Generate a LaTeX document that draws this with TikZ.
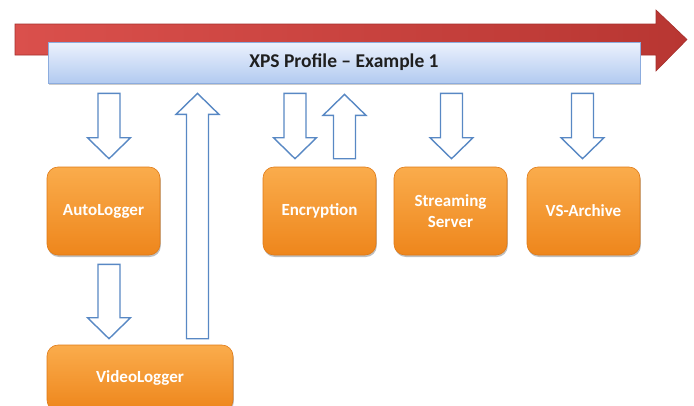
\documentclass[tikz,border=0pt]{standalone}
\usepackage{fontspec}
\setmainfont{Carlito}
\usetikzlibrary{calc,shadows}
\definecolor{redL}{RGB}{218,80,76}
\definecolor{redR}{RGB}{184,54,50}
\definecolor{redB}{RGB}{165,48,45}
\definecolor{barT}{RGB}{236,242,253}
\definecolor{barB}{RGB}{178,202,240}
\definecolor{barD}{RGB}{140,172,222}
\definecolor{orT}{RGB}{250,172,76}
\definecolor{orB}{RGB}{238,134,28}
\definecolor{orD}{RGB}{224,122,22}
\definecolor{arrBlue}{RGB}{88,136,196}
\newcommand\blockarrow[2]{%
  \draw[blockarr] let \p1=(#1), \p2=(#2), \n1={sign(\y2-\y1)} in
    ({\x1-11pt},{\y1}) -- ({\x1-11pt},{\y2-\n1*21pt}) -- ({\x1-21.5pt},{\y2-\n1*21pt})
    -- ({\x1},{\y2}) -- ({\x1+21.5pt},{\y2-\n1*21pt}) -- ({\x1+11pt},{\y2-\n1*21pt})
    -- ({\x1+11pt},{\y1}) -- cycle;}
\begin{document}
\begin{tikzpicture}[x=1pt,y=-1pt,
  box/.style={rectangle, rounded corners=11pt, minimum width=113pt, minimum height=88pt,
    inner sep=0pt, top color=orT, bottom color=orB, draw=orD, line width=0.6pt,
    text=white, font=\bfseries\fontsize{17}{21}\selectfont, align=center,
    drop shadow={shadow xshift=0.8pt, shadow yshift=-2pt, opacity=0.25, fill=black}},
  blockarr/.style={draw=arrBlue, fill=white, line width=1.4pt, line join=miter},
  bigarrow/.style={left color=redL, right color=redR, draw=redB, line width=0.6pt}]
\useasboundingbox (0,0) rectangle (694,405);
\clip (0,0) rectangle (694,405);
\fill[white] (0,0) rectangle (694,405);
% red timeline arrow
\draw[bigarrow] (15,24) -- (656,24) -- (656,10) -- (687,39.5) -- (656,71) -- (656,55) -- (15,55) -- cycle;
% profile bar
\node[rectangle, minimum width=592pt, minimum height=41pt, inner sep=0pt,
  top color=barT, bottom color=barB, draw=barD, line width=0.8pt,
  font=\bfseries\fontsize{19.5}{22}\selectfont, text=black!88,
  drop shadow={shadow xshift=0.5pt, shadow yshift=-1.5pt, opacity=0.2, fill=black}]
  (bar) at (344,62.5) {XPS Profile -- Example 1};
% component boxes
\node[box] (auto) at (103.5,211) {AutoLogger};
\node[box] (enc) at (319.5,211) {Encryption};
\node[box] (stream) at (450.5,211) {Streaming\\Server};
\node[box] (vs) at (583.5,211) {VS-Archive};
\node[box, minimum width=186pt, minimum height=66pt] (video) at (140,378) {VideoLogger};
% arrow endpoints
\coordinate (a1s) at ($(bar.south -| auto.north)+(5.5,10)$);
\coordinate (a1e) at ($(auto.north)+(5.5,-8)$);
\coordinate (a2s) at ($(auto.south)+(5.5,9)$);
\coordinate (a2e) at ($(video.north -| auto.north)+(5.5,-6)$);
\coordinate (a3s) at ($(video.north)+(57.5,-6)$);
\coordinate (a3e) at ($(bar.south -| video.north)+(57.5,10)$);
\coordinate (a4s) at ($(bar.south -| enc.north)+(-24.5,10)$);
\coordinate (a4e) at ($(enc.north)+(-24.5,-8)$);
\coordinate (a5s) at ($(enc.north)+(25,-8)$);
\coordinate (a5e) at ($(bar.south -| enc.north)+(25,11)$);
\coordinate (a6s) at ($(bar.south -| stream.north)+(1,10)$);
\coordinate (a6e) at ($(stream.north)+(1,-8)$);
\coordinate (a7s) at ($(bar.south -| vs.north)+(-1,10)$);
\coordinate (a7e) at ($(vs.north)+(-1,-8)$);
\blockarrow{a1s}{a1e}
\blockarrow{a2s}{a2e}
\blockarrow{a3s}{a3e}
\blockarrow{a4s}{a4e}
\blockarrow{a5s}{a5e}
\blockarrow{a6s}{a6e}
\blockarrow{a7s}{a7e}
\end{tikzpicture}
\end{document}
